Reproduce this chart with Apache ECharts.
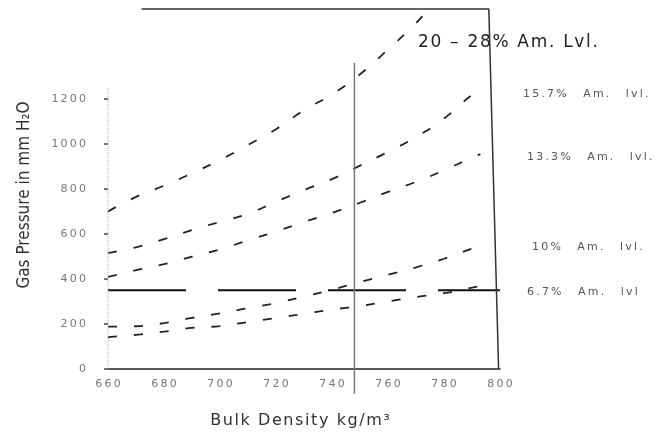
<!DOCTYPE html>
<html><head><meta charset="utf-8">
<script src="https://cdn.jsdelivr.net/npm/echarts@6/dist/echarts.min.js"></script>
<style>html,body{margin:0;padding:0;background:#fff}#c{width:670px;height:435px}</style>
</head><body><div id="c"></div>
<script>
// Bulk density (kg/m3) vs gas pressure (mm H2O), per ammonium level
var xTicks = [660, 680, 700, 720, 740, 760, 780, 800];
var yTicks = [0, 200, 400, 600, 800, 1000, 1200];
var lvl20_28 = [[660,700],[670,765],[680,815],[690,870],[700,929],[710,996],[720,1066],[730,1150],[740,1221],[750,1310],[760,1420],[770,1537],[774,1595]];
var lvl15_7 = [[660,516],[670,541],[680,577],[690,618],[700,654],[710,690],[720,743],[730,795],[740,844],[750,904],[760,965],[770,1031],[780,1113],[790,1218],[793,1235]];
var lvl13_3 = [[660,409],[670,439],[680,466],[690,499],[700,532],[710,572],[720,611],[730,654],[740,694],[750,739],[760,787],[770,832],[780,883],[790,940],[793,955]];
var lvl10 = [[660,188],[670,190],[680,204],[690,227],[700,247],[710,271],[720,293],[730,322],[740,352],[750,387],[760,419],[770,452],[780,490],[790,535],[792,542]];
var lvl6_7 = [[660,142],[670,152],[680,166],[690,183],[700,191],[710,209],[720,227],[730,245],[740,264],[750,280],[760,300],[770,320],[780,337],[790,362],[796,376]];
var refLevel = [[660,350],[800,350]];
var refDensity = [[748,-110],[748,1360]];
var frame = [[672,1600],[796,1600],[799.5,0]];
var yAxisLine = [[660,0],[660,1250]];
var seriesLabels = [
  {words:['15.7%','Am.','lvl.'], x:523, y:94},
  {words:['13.3%','Am.','lvl.'], x:527, y:157},
  {words:['10%','Am.','lvl.'], x:532, y:247},
  {words:['6.7%','Am.','lvl'], x:527, y:292}
];
var titleLabel = {text:'20 – 28% Am. Lvl.', x:418, y:43};
var xTitle = 'Bulk Density kg/m³';
var yTitle = 'Gas Pressure in mm H₂O';

function ls(s, sp){ return String(s).split('').join(sp); }
function spaced(v){ return ls(v, '\u2009'); }

var chart = echarts.init(document.getElementById('c'));
var dashStyle = {color:'#222', width:1.8, type:[9,17]};
function curve(d){ return {type:'line', data:d, smooth:true, showSymbol:false, symbol:'none', lineStyle:dashStyle, silent:true}; }

var graphics = seriesLabels.map(function(l){
  return {type:'text', x:l.x, y:l.y, style:{text:l.words.map(function(w){return ls(w,'\u2009');}).join('\u2003\u2002'), fill:'#555', font:'normal 11px "DejaVu Sans"', textVerticalAlign:'middle', textAlign:'left'}};
});
graphics.push({type:'text', x:titleLabel.x, y:titleLabel.y, style:{text:ls(titleLabel.text,'\u200A'), fill:'#222', font:'normal 17px "DejaVu Sans"', textVerticalAlign:'middle', textAlign:'left'}});
graphics.push({type:'text', x:25, y:195, rotation:Math.PI/2, style:{text:yTitle, fill:'#333', font:'normal 17px "DejaVu Sans Condensed"', textAlign:'center', textVerticalAlign:'middle'}});
graphics.push({type:'text', x:300, y:421, style:{text:ls(xTitle,'\u200A'), fill:'#333', font:'normal 16px "DejaVu Sans"', textAlign:'center', textVerticalAlign:'middle'}});

chart.setOption({
  animation:false,
  backgroundColor:'#fff',
  grid:{left:108, right:170, top:9, bottom:66},
  xAxis:{type:'value', min:660, max:800, interval:20,
    axisLine:{show:true, lineStyle:{color:'#222', width:1.5}},
    axisTick:{show:false}, splitLine:{show:false},
    axisLabel:{color:'#777', fontSize:11, fontFamily:'DejaVu Sans', margin:10, formatter:spaced}},
  yAxis:{type:'value', min:0, max:1600, interval:200,
    axisLine:{show:false},
    axisTick:{show:true, length:4, customValues:yTicks, lineStyle:{color:'#444', width:1.5}},
    splitLine:{show:false},
    axisLabel:{color:'#777', fontSize:11, fontFamily:'DejaVu Sans', margin:22, customValues:yTicks, formatter:spaced}},
  graphic:graphics,
  series:[
    curve(lvl20_28), curve(lvl15_7), curve(lvl13_3), curve(lvl10), curve(lvl6_7),
    {type:'line', data:refLevel, showSymbol:false, symbol:'none', lineStyle:{color:'#111', width:2, type:[78,32]}, silent:true},
    {type:'line', data:refDensity, clip:false, showSymbol:false, symbol:'none', lineStyle:{color:'#777', width:1.5}, silent:true},
    {type:'line', data:frame, clip:false, showSymbol:false, symbol:'none', lineStyle:{color:'#333', width:1.5}, silent:true},
    {type:'line', data:yAxisLine, showSymbol:false, symbol:'none', lineStyle:{color:'#aaa', width:1, type:'dotted'}, silent:true}
  ]
});
</script></body></html>
